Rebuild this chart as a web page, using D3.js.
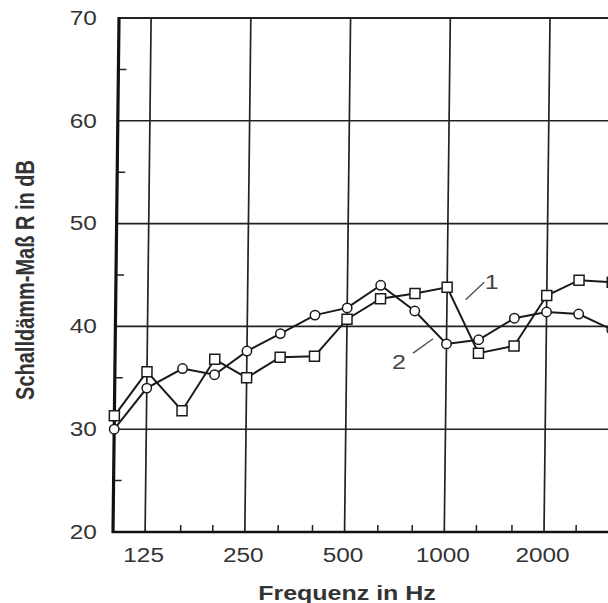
<!DOCTYPE html>
<html>
<head>
<meta charset="utf-8">
<script src="https://cdn.jsdelivr.net/npm/d3@7"></script>
<style>
  body { margin: 0; background: #fff; }
  text { font-family: 'Liberation Sans', Arial, sans-serif; }
</style>
</head>
<body>
<script>
// Terzband-Mittenfrequenzen in Hz
let freqs = [100, 125, 160, 200, 250, 315, 400, 500, 630, 800, 1000, 1250, 1600, 2000, 2500, 3150]
// Kurve 1 (Quadrate), Kurve 2 (Kreise), R in dB
let curve1 = [31.3, 35.6, 31.8, 36.8, 35.0, 37.0, 37.1, 40.7, 42.7, 43.2, 43.8, 37.4, 38.1, 43.0, 44.5, 44.3]
let curve2 = [30.0, 34.0, 35.9, 35.3, 37.6, 39.3, 41.1, 41.8, 44.0, 41.5, 38.3, 38.7, 40.8, 41.4, 41.2, 39.7]

let xTicks = [125, 250, 500, 1000, 2000]
let xMinor = [160, 200, 315, 400, 630, 800, 1250, 1600, 2500]
let yTicks = [20, 30, 40, 50, 60, 70]
let yMinor = [25, 35, 45, 55, 65]

// Beschriftung der Kurven: [Text, f, R] und Hinweislinien [f1, R1, f2, R2]
let labels = [['1', 1390, 44.3], ['2', 730, 36.6]]
let leaders = [[1160, 42.6, 1320, 44.3], [805, 37.4, 925, 38.8]]

let width = 608,
  height = 603,
  plotLeft = 113,
  plotBottom = 532,
  plotTop = 18,
  stretch = 1.25,
  ink = '#222'

let svg = d3.select('body').append('svg')
  .attr('width', width)
  .attr('height', height)

let x = d3.scaleLog()
  .domain([100, 2000])
  .range([plotLeft, 544])

let y = d3.scaleLinear()
  .domain([20, 70])
  .range([plotBottom, plotTop])

// the scan is slightly slanted, so the plot area is skewed a bit
let plot = svg.append('g')
  .attr('transform', 'translate(0,' + plotBottom + ') skewX(-0.67) translate(0,' + (-plotBottom) + ')')

// horizontal grid
plot.selectAll('.hgrid')
  .data(yTicks.slice(1, -1))
  .enter()
  .append('line')
  .attr('x1', plotLeft).attr('x2', width + 10)
  .attr('y1', d => y(d)).attr('y2', d => y(d))
  .attr('stroke', ink)
  .attr('stroke-width', 1.6)

// vertical grid
plot.selectAll('.vgrid')
  .data(xTicks)
  .enter()
  .append('line')
  .attr('x1', d => x(d)).attr('x2', d => x(d))
  .attr('y1', plotTop).attr('y2', plotBottom)
  .attr('stroke', ink)
  .attr('stroke-width', 1.7)

// top border
plot.append('line')
  .attr('x1', plotLeft).attr('x2', width + 20)
  .attr('y1', plotTop).attr('y2', plotTop)
  .attr('stroke', ink)
  .attr('stroke-width', 2)

// minor ticks
plot.selectAll('.ymin')
  .data(yMinor)
  .enter()
  .append('line')
  .attr('x1', plotLeft).attr('x2', plotLeft + 8)
  .attr('y1', d => y(d)).attr('y2', d => y(d))
  .attr('stroke', ink)
  .attr('stroke-width', 1.5)

plot.selectAll('.xmin')
  .data(xMinor)
  .enter()
  .append('line')
  .attr('x1', d => x(d)).attr('x2', d => x(d))
  .attr('y1', plotBottom).attr('y2', plotBottom - 7)
  .attr('stroke', ink)
  .attr('stroke-width', 1.5)

// axis lines
plot.append('line')
  .attr('x1', plotLeft).attr('x2', plotLeft)
  .attr('y1', plotTop - 1).attr('y2', plotBottom + 1)
  .attr('stroke', '#111')
  .attr('stroke-width', 3.2)

plot.append('line')
  .attr('x1', plotLeft - 1).attr('x2', width + 10)
  .attr('y1', plotBottom).attr('y2', plotBottom)
  .attr('stroke', '#111')
  .attr('stroke-width', 2.6)

// curves
let line = d3.line()
  .x((d, i) => x(freqs[i]))
  .y(d => y(d))

;[curve1, curve2].forEach(c => {
  plot.append('path')
    .datum(c)
    .attr('d', line)
    .attr('fill', 'none')
    .attr('stroke', '#1a1a1a')
    .attr('stroke-width', 2)
})

plot.selectAll('.sq')
  .data(curve1)
  .enter()
  .append('rect')
  .attr('x', (d, i) => x(freqs[i]) - 5)
  .attr('y', d => y(d) - 5)
  .attr('width', 10)
  .attr('height', 10)
  .attr('fill', '#fff')
  .attr('stroke', '#1a1a1a')
  .attr('stroke-width', 1.5)

plot.selectAll('.ci')
  .data(curve2)
  .enter()
  .append('circle')
  .attr('cx', (d, i) => x(freqs[i]))
  .attr('cy', d => y(d))
  .attr('r', 4.7)
  .attr('fill', '#fff')
  .attr('stroke', '#1a1a1a')
  .attr('stroke-width', 1.5)

// curve labels
svg.selectAll('.lead')
  .data(leaders)
  .enter()
  .append('line')
  .attr('x1', d => x(d[0])).attr('y1', d => y(d[1]))
  .attr('x2', d => x(d[2])).attr('y2', d => y(d[3]))
  .attr('stroke', '#555')
  .attr('stroke-width', 1.5)

svg.selectAll('.lab')
  .data(labels)
  .enter()
  .append('text')
  .attr('transform', d => 'translate(' + x(d[1]) + ',' + y(d[2]) + ') scale(' + stretch + ',1)')
  .attr('text-anchor', 'middle')
  .attr('dy', '0.36em')
  .attr('font-size', 20)
  .attr('fill', '#444')
  .text(d => d[0])

// tick labels
let axisX = d3.axisBottom(x)
  .tickValues(xTicks)
  .tickFormat(d3.format('d'))
  .tickSize(0)
  .tickPadding(16)

let gx = svg.append('g')
  .attr('transform', 'translate(-2,' + plotBottom + ')')
  .call(axisX)
gx.select('.domain').remove()
gx.selectAll('text')
  .attr('font-size', 19.5)
  .attr('font-family', "'Liberation Sans', Arial, sans-serif")
  .attr('fill', '#333')
  .attr('transform', 'scale(' + stretch + ',1)')

let axisY = d3.axisLeft(y)
  .tickValues(yTicks)
  .tickSize(0)
  .tickPadding(13)

let gy = svg.append('g')
  .attr('transform', 'translate(' + plotLeft + ',0)')
  .call(axisY)
gy.select('.domain').remove()
gy.selectAll('text')
  .attr('font-size', 19.5)
  .attr('font-family', "'Liberation Sans', Arial, sans-serif")
  .attr('fill', '#333')
  .attr('transform', 'scale(' + stretch + ',1)')

// axis titles
svg.append('text')
  .attr('transform', 'translate(347,600) scale(' + stretch + ',1)')
  .attr('text-anchor', 'middle')
  .attr('font-size', 20)
  .attr('font-weight', 'bold')
  .attr('fill', '#333')
  .text('Frequenz in Hz')

svg.append('text')
  .attr('transform', 'translate(25,280) scale(' + stretch + ',1) rotate(-90)')
  .attr('text-anchor', 'middle')
  .attr('dy', '0.36em')
  .attr('font-size', 20)
  .attr('font-weight', 'bold')
  .attr('fill', '#333')
  .text('Schalldämm-Maß R in dB')
</script>
</body>
</html>
